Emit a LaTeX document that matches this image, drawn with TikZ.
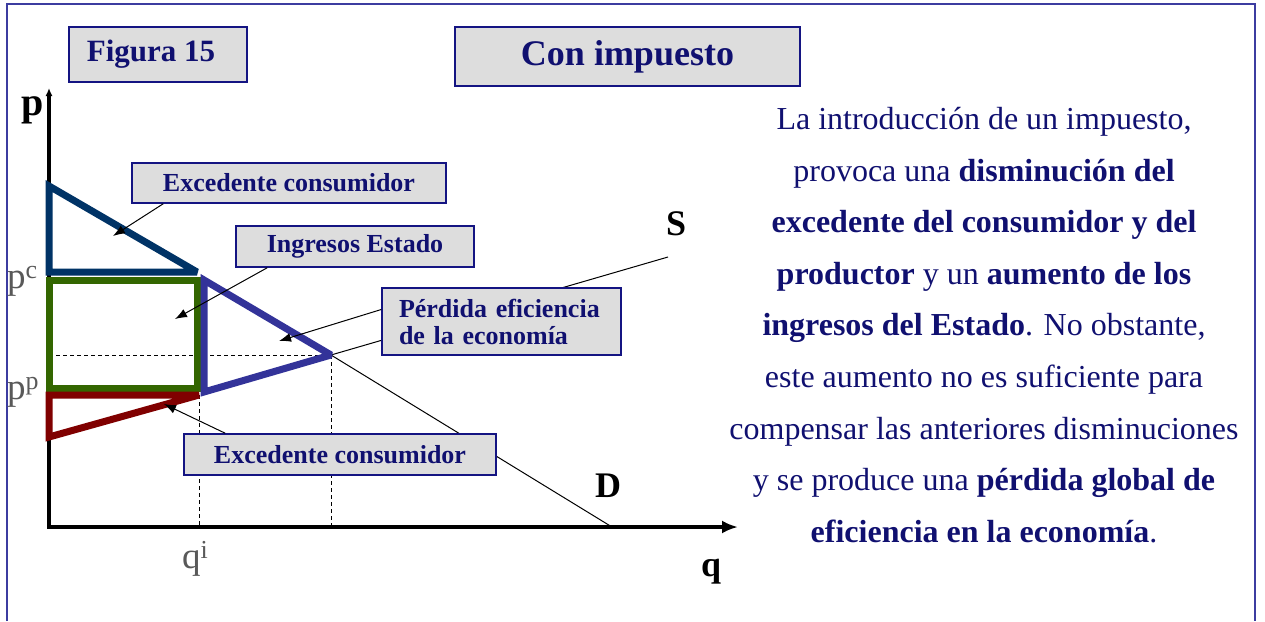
\documentclass[tikz,border=0pt]{standalone}
\usepackage{fontspec}
\setmainfont{Liberation Serif}
\usetikzlibrary{arrows.meta}

\definecolor{navytext}{RGB}{16,16,112}
\definecolor{boxfill}{RGB}{221,221,221}
\definecolor{boxline}{RGB}{20,20,130}
\definecolor{framecol}{RGB}{60,60,160}
\definecolor{csblue}{RGB}{0,51,102}
\definecolor{revgreen}{RGB}{51,102,0}
\definecolor{dwlpurple}{RGB}{51,51,153}
\definecolor{psred}{RGB}{128,0,0}
\definecolor{labelgray}{RGB}{89,89,89}

\tikzset{
  callout/.style={draw=boxline, fill=boxfill, line width=1.5pt, text=navytext,
    font=\fontsize{26}{27}\selectfont\bfseries, inner sep=0pt},
  pointer/.style={-{Latex[length=12pt,width=9pt]}, line width=1pt},
  surplus/.style={line width=7pt, miter limit=2.2},
  guide/.style={dash pattern=on 4pt off 3pt, line width=1pt},
  axislabel/.style={font=\fontsize{36}{36}\selectfont\bfseries, inner sep=0pt},
  pricelabel/.style={text=labelgray, font=\fontsize{37}{37}\selectfont, inner sep=0pt}
}

\begin{document}
\begin{tikzpicture}[x=1pt, y=-1pt]
  \useasboundingbox (0,0) rectangle (1265,621);

  % Slide frame (open at the bottom)
  \draw[framecol, line width=1.5pt] (7,621) -- (7,4) -- (1255,4) -- (1255,621);

  % Market points
  \coordinate (orig) at (49,527);
  \coordinate (ytop) at (49,88);
  \coordinate (xtip) at (738,527);
  \coordinate (equil) at (331,355);
  \coordinate (dend) at (612,527);
  \coordinate (send) at (668,257);

  % Guides to the axes
  \draw[guide] (49,355) -- (equil);
  \draw[guide] (199,395) -- (199,527);
  \draw[guide] (equil) -- (331,527);

  % Axes
  \draw[line width=4pt, {Latex[length=8pt,width=7pt]}-{Latex[length=16pt,width=13pt]}]
    (ytop) -- (orig) -- (xtip);

  % Demand and supply
  \draw[line width=1pt] (equil) -- (dend);
  \draw[line width=1pt] (equil) -- (send);

  % Surplus areas
  \draw[surplus, csblue] (49,186) -- (197,272) -- (49,272) -- cycle;
  \draw[surplus, revgreen] (49,280) rectangle (197,388);
  \draw[surplus, dwlpurple] (204,280) -- (equil) -- (204,392) -- cycle;
  \draw[surplus, psred] (49,395) -- (199,395) -- (49,437) -- cycle;

  % Axis labels
  \node[axislabel, font=\fontsize{40}{40}\selectfont\bfseries, anchor=base] (plab) at (33,115) {p};
  \node[axislabel, anchor=base] (qlab) at (711,576) {q};
  \node[axislabel, anchor=base] (slab) at (676,235) {S};
  \node[axislabel, anchor=base] (dlab) at (608,497) {D};
  \node[pricelabel, anchor=base west] (pclab) at (7,288) {p\textsuperscript{c}};
  \node[pricelabel, anchor=base west] (pplab) at (7,399) {p\textsuperscript{p}};
  \node[pricelabel, anchor=base west] (qilab) at (182,568) {q\textsuperscript{i}};

  % Titles
  \node[callout, minimum width=178pt, minimum height=55pt,
        font=\fontsize{31}{31}\selectfont\bfseries] (fig) at (158,54.5) {Figura 15\hspace*{14pt}};
  \node[callout, minimum width=345pt, minimum height=59pt,
        font=\fontsize{36}{36}\selectfont\bfseries] (title) at (627.5,56.5) {Con impuesto};

  % Callouts
  \node[callout, minimum width=314pt, minimum height=40pt] (cs) at (289,183) {Excedente consumidor};
  \node[callout, minimum width=238pt, minimum height=41pt] (rev) at (355,246.5) {Ingresos Estado};
  \node[callout, minimum width=239pt, minimum height=67pt, align=left, text width=205pt]
    (dwl) at (501.5,321.5) {Pérdida eficiencia\\de la economía};
  \node[callout, minimum width=312pt, minimum height=41pt] (ps) at (340,454.5) {Excedente consumidor};

  \coordinate (csin) at (113,236);
  \coordinate (revin) at (175,319);
  \coordinate (dwlin) at (279,341);
  \coordinate (psin) at (164,404);

  \draw[pointer] ([xshift=32pt]cs.south west) -- (csin);
  \draw[pointer] ([xshift=32pt]rev.south west) -- (revin);
  \draw[pointer] ([yshift=12pt]dwl.west) -- (dwlin);
  \draw[pointer] ([xshift=42pt]ps.north west) -- (psin);

  % Explanation
  \node[text=navytext, align=center, font=\fontsize{32}{51.6}\selectfont] (summary) at (984,325)
    {La introducción de un impuesto,\\
     provoca una \textbf{disminución del}\\
     \textbf{excedente del consumidor y del}\\
     \textbf{productor} y un \textbf{aumento de los}\\
     \textbf{ingresos del Estado}. No obstante,\\
     este aumento no es suficiente para\\
     compensar las anteriores disminuciones\\
     y se produce una \textbf{pérdida global de}\\
     \textbf{eficiencia en la economía}.};
\end{tikzpicture}
\end{document}
